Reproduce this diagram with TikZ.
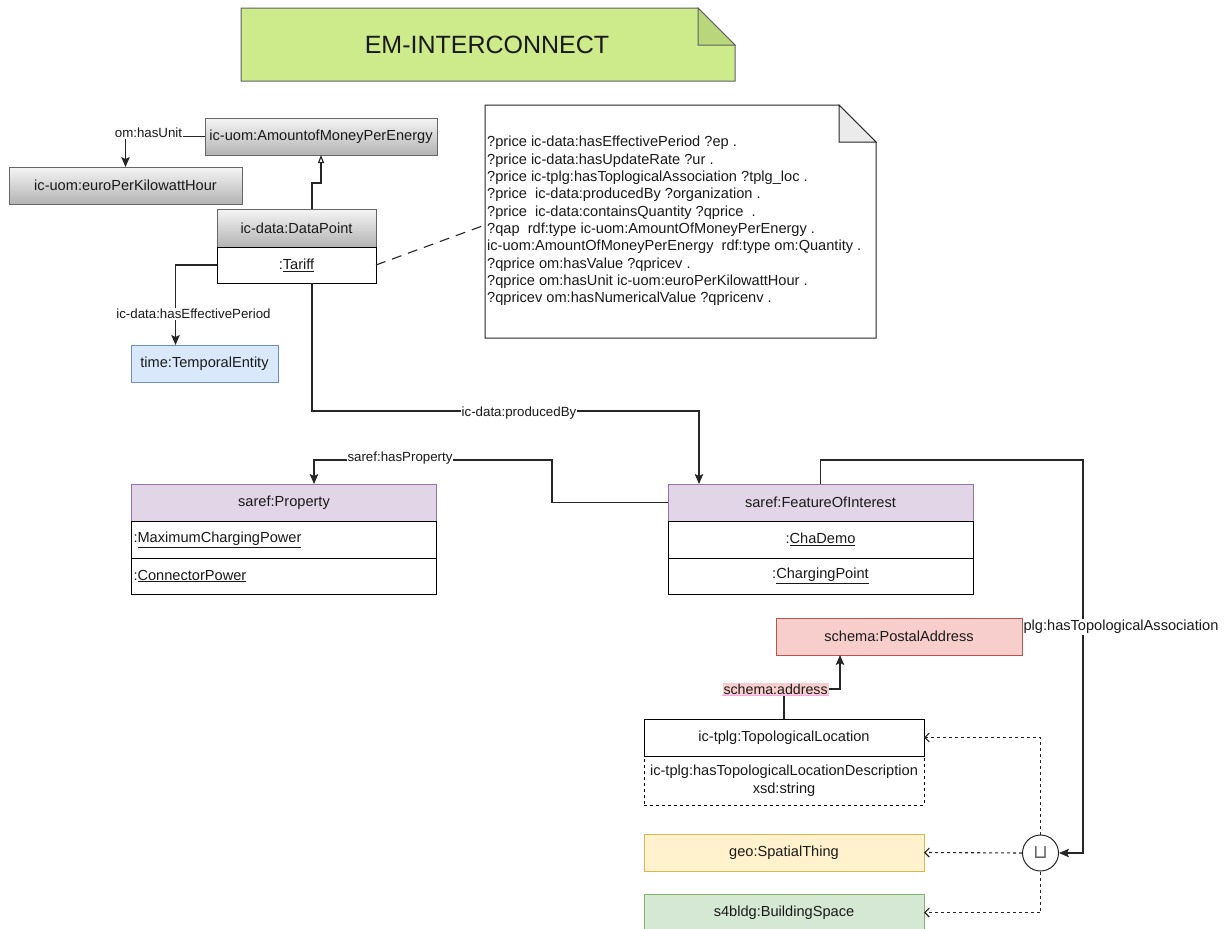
\documentclass[tikz,border=0pt]{standalone}
\usepackage{fontspec}
\setmainfont{Liberation Sans}
\newfontfamily\symfont{DejaVu Sans}
\usetikzlibrary{arrows.meta}

\definecolor{cGrayT}{HTML}{F5F5F5}
\definecolor{cGrayB}{HTML}{B3B3B3}
\definecolor{cGrayD}{HTML}{666666}
\definecolor{cPurF}{HTML}{E1D5E7}
\definecolor{cPurD}{HTML}{9673A6}
\definecolor{cBluF}{HTML}{DAE8FC}
\definecolor{cBluD}{HTML}{6C8EBF}
\definecolor{cRedF}{HTML}{F8CECC}
\definecolor{cRedD}{HTML}{B85450}
\definecolor{cYelF}{HTML}{FFF2CC}
\definecolor{cYelD}{HTML}{D6B656}
\definecolor{cGrnF}{HTML}{D5E8D4}
\definecolor{cGrnD}{HTML}{82B366}
\definecolor{cTitF}{HTML}{CDEB8B}
\definecolor{cTitFold}{HTML}{B9D67A}
\definecolor{cTitD}{HTML}{36393D}
\definecolor{cPink}{HTML}{F8CECC}
\definecolor{cPinkLine}{HTML}{F5A6EE}
\definecolor{cInk}{HTML}{1A1A1A}

\tikzset{
  box/.style={draw, line width=1pt, inner sep=0pt, outer sep=0pt,
    text=cInk, font=\fontsize{14.6}{17}\selectfont},
  graybox/.style={box, draw=cGrayD, top color=cGrayT, bottom color=cGrayB},
  whitebox/.style={box, draw=black, fill=white},
  purplebox/.style={box, draw=cPurD, fill=cPurF},
  bluebox/.style={box, draw=cBluD, fill=cBluF},
  redbox/.style={box, draw=cRedD, fill=cRedF},
  yellowbox/.style={box, draw=cYelD, fill=cYelF},
  greenbox/.style={box, draw=cGrnD, fill=cGrnF},
  rowleft/.style={whitebox, inner xsep=2pt, text width=301pt, align=left},
  edge/.style={draw=black!85, line width=1.1pt},
  arr/.style={edge, -{Stealth[length=10pt,width=8.5pt,inset=2pt]}},
  gen/.style={edge, -{Triangle[open,length=8pt,width=6pt,fill=white]}},
  dasharr/.style={edge, dash pattern=on 3pt off 3pt,
    -{Straight Barb[length=4.5pt,width=9pt]}},
  elabel/.style={fill=white, inner sep=1pt, text=cInk,
    font=\fontsize{13.3}{15}\selectfont},
}

\begin{document}
\begin{tikzpicture}[x=1pt,y=-1pt]
\useasboundingbox[fill=white] (0,0) rectangle (1227,929);

% title banner with folded corner
\filldraw[fill=cTitF, draw=cTitD!80, line width=1pt]
  (241,8) -- (698,8) -- (735,45) -- (735,81) -- (241,81) -- cycle;
\filldraw[fill=cTitFold, draw=cTitD!80, line width=1pt]
  (698,8) -- (698,45) -- (735,45) -- cycle;
\node[text=cInk, font=\fontsize{25}{30}\selectfont] (title) at (487,45) {EM-INTERCONNECT};

% query note with folded corner
\filldraw[fill=white, draw=black!85, line width=1pt]
  (485,105) -- (839,105) -- (876,142) -- (876,338) -- (485,338) -- cycle;
\filldraw[fill=black!8, draw=black!85, line width=1pt]
  (839,105) -- (839,142) -- (876,142) -- cycle;
\coordinate (noteport) at (485,225);
\node[anchor=west, align=left, inner sep=0pt, text=cInk,
      font=\fontsize{14.6}{17.3}\selectfont] (notetext) at (487,221)
{?price ic-data:hasEffectivePeriod ?ep .\\
?price ic-data:hasUpdateRate ?ur .\\
?price ic-tplg:hasToplogicalAssociation ?tplg\_loc .\\
?price\ \ ic-data:producedBy ?organization .\\
?price\ \ ic-data:containsQuantity ?qprice\ \ .\\
?qap\ \ rdf:type ic-uom:AmountOfMoneyPerEnergy .\\
ic-uom:AmountOfMoneyPerEnergy\ \ rdf:type om:Quantity .\\
?qprice om:hasValue ?qpricev .\\
?qprice om:hasUnit ic-uom:euroPerKilowattHour .\\
?qpricev om:hasNumericalValue ?qpricenv .};

% class and instance boxes
\node[graybox, minimum width=232pt, minimum height=37pt] (amount) at (321,136.5) {ic-uom:AmountofMoneyPerEnergy};
\node[graybox, minimum width=233pt, minimum height=37pt] (euro) at (125.5,185.5) {ic-uom:euroPerKilowattHour};
\node[graybox, minimum width=159pt, minimum height=38pt] (dp) at (296.5,228) {ic-data:DataPoint};
\node[whitebox, minimum width=159pt, minimum height=36pt] (tariff) at (296.5,265) {:\underline{Tariff}};
\node[bluebox, minimum width=147pt, minimum height=37pt] (temporal) at (204.5,363.5) {time:TemporalEntity};

\node[purplebox, minimum width=305pt, minimum height=37pt] (prophead) at (284,502.5) {saref:Property};
\node[rowleft, minimum height=37pt] (prop1) at (284,539.5) {:\underline{MaximumChargingPower}};
\node[rowleft, minimum height=36pt] (prop2) at (284,576) {:\underline{ConnectorPower}};

\node[purplebox, minimum width=305pt, minimum height=37pt] (foihead) at (820.5,502.5) {saref:FeatureOfInterest};
\node[whitebox, minimum width=305pt, minimum height=37pt] (foi1) at (820.5,539.5) {:\underline{ChaDemo}};
\node[whitebox, minimum width=305pt, minimum height=36pt] (foi2) at (820.5,576) {:\underline{ChargingPoint}};

\node[redbox, minimum width=246pt, minimum height=37pt] (postal) at (899,636.5) {schema:PostalAddress};
\node[whitebox, minimum width=280pt, minimum height=37pt] (topo) at (784,737.5) {ic-tplg:TopologicalLocation};
\node[box, draw=black, dash pattern=on 3pt off 3pt, minimum width=280pt, minimum height=49pt,
      align=center, font=\fontsize{14.6}{18}\selectfont] (topodesc) at (784,780.5)
  {ic-tplg:hasTopologicalLocationDescription\\xsd:string};
\node[yellowbox, minimum width=280pt, minimum height=37pt] (spatial) at (784,852.5) {geo:SpatialThing};
\node[greenbox, minimum width=280pt, minimum height=37pt] (bspace) at (784,912.5) {s4bldg:BuildingSpace};
\node[circle, draw=black!85, line width=1pt, fill=white, minimum size=36pt, inner sep=0pt,
      text=black!60, font=\symfont\fontsize{19}{19}\selectfont] (union) at (1040.5,853) {⊔};

% connectors
\draw[arr] (amount.west) -| (euro.north);
\draw[gen] ([xshift=15.5pt]dp.north) -- ++(0,-26) -| (amount.south);
\draw[arr] (tariff.west) -| ([xshift=-29pt]temporal.north);
\draw[edge, dash pattern=on 10pt off 7pt] (tariff.east) -- (noteport);
\draw[arr] ([xshift=15.5pt]tariff.south) -- ++(0,128) -| ([xshift=-121.5pt]foihead.north);
\draw[arr] (foihead.west) -| (552,460) -| ([xshift=30pt]prophead.north);
\draw[arr] (foihead.north) |- (1083,460) |- (union.east);
\draw[arr] (topo.north) -- ++(0,-30) -| ([xshift=-59pt]postal.south);
\draw[dasharr] (union.north) |- (topo.east);
\draw[dasharr] (union.west) -- (spatial.east);
\draw[dasharr] (union.south) |- (bspace.east);

% connector labels
\node[elabel] (lunit) at (148.5,133) {om:hasUnit};
\node[elabel] (lperiod) at (193.5,314) {ic-data:hasEffectivePeriod};
\node[elabel] (lprod) at (519,413) {ic-data:producedBy};
\node[elabel] (lprop) at (400,458) {saref:hasProperty};
\node[elabel, font=\fontsize{14.6}{17}\selectfont] (ltopo) at (1121,627) {plg:hasTopologicalAssociation};
\node[elabel, fill=cPink, font=\fontsize{14.2}{17}\selectfont] (laddr) at (775.6,689) {schema:address};
\draw[cPinkLine, line width=1pt] (laddr.south west) -- (laddr.south east);
\end{tikzpicture}
\end{document}
